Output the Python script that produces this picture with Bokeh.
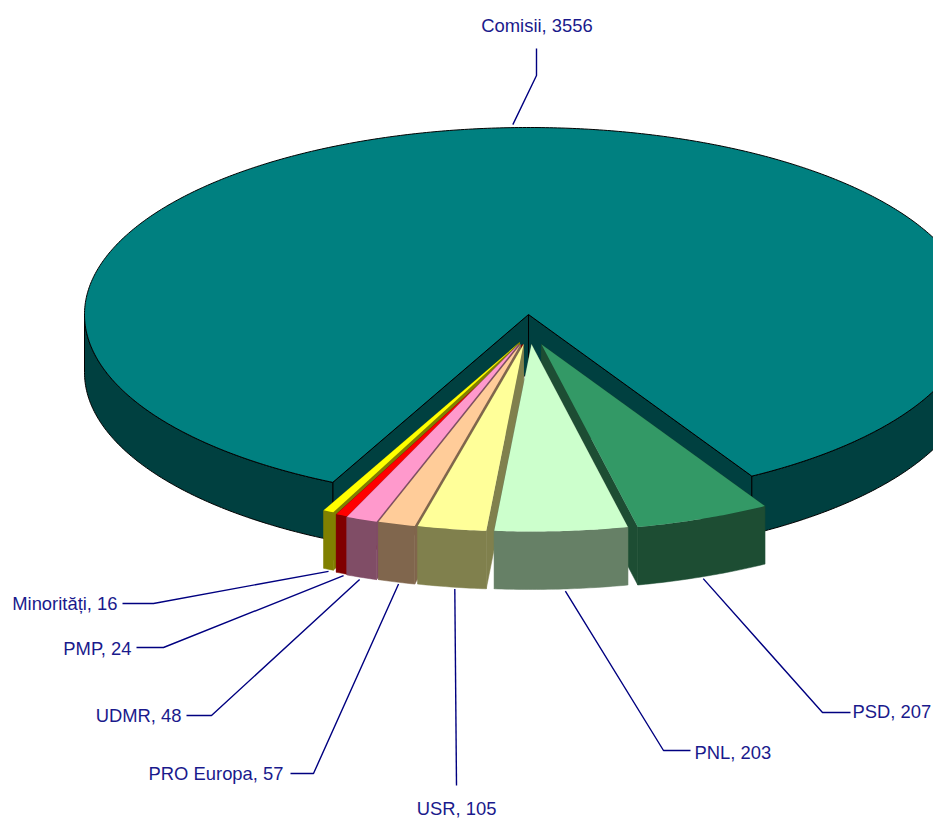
import numpy as np
from bokeh.embed import file_html
from bokeh.models import ColumnDataSource
from bokeh.plotting import figure
from bokeh.resources import INLINE
from bokeh.core.properties import value

categories = ["Comisii", "PSD", "PNL", "USR", "PRO Europa", "UDMR", "PMP", "Minorități"]
values = [3556, 207, 203, 105, 57, 48, 24, 16]
top_colors = ["#008080", "#339966", "#CCFFCC", "#FFFF99", "#FFCC99", "#FF99CC", "#FF0000", "#FFFF00"]
side_colors = ["#004040", "#1D4D33", "#668066", "#80804D", "#80664D", "#804D66", "#800000", "#808000"]

# pie geometry (screen units, y downwards)
CX, CY, A, B, DEPTH = 528, 314, 444, 187, 58
START = 30.2
slice_dx = [0, 13, 3, -5, -8, -10, -6, -9]
slice_dy = [0, 30, 30, 30, 30, 30, 30, 28]
# painting order of the exploded slices
paint_order = [7, 6, 5, 4, 3, 1, 2]

# label layout: elbow and label end points, per category
anchor_dx = [0, 0, 4, 3, 2, -2, 0, 0]
elbows = [(536, 75), (822, 712), (663, 750), (456, 785), (313, 773), (211, 715), (163, 647), (153, 603)]
ends = [(536, 48), (850, 712), (690, 750), (456, 785), (290, 773), (186, 715), (136, 647), (122, 603)]
label_pos = [(536.5, 25), (852, 711), (694, 752), (456, 808), (283, 773), (181, 715), (131, 648), (117, 603)]
label_align = ["center", "left", "left", "center", "right", "right", "right", "right"]

deg = 360.0 / sum(values)
spans = []
cur = START
spans.append((START, START + values[0] * deg))
for v in values[1:]:
    spans.append((cur, cur - v * deg))
    cur -= v * deg

p = figure(width=933, height=820, x_range=(0, 933), y_range=(820, 0),
           output_backend="svg", toolbar_location=None, min_border=0,
           x_axis_type="linear", y_axis_type="linear")
p.axis.visible = False
p.grid.visible = False
p.outline_line_color = None
p.styles = {"position": "absolute", "left": "0px", "top": "0px"}


def rim(cx, cy, t1, t2, n=None):
    n = n or max(2, int(abs(t2 - t1)) * 2 + 2)
    th = np.radians(np.linspace(t1, t2, n))
    return cx + A * np.sin(th), cy + B * np.cos(th)


def wall(cx, cy, t):
    x, y = rim(cx, cy, t, t, 2)
    return [cx, x[0], x[0], cx], [cy, y[0], y[0] + DEPTH, cy + DEPTH]


def front(cx, cy, t1, t2):
    """Outer face for the part of the rim that faces the viewer."""
    lo, hi = max(min(t1, t2), -90), min(max(t1, t2), 90)
    x, y = rim(cx, cy, lo, hi)
    return np.r_[x, x[::-1]], np.r_[y, y[::-1] + DEPTH]


# Comisii: walls and outer side, then the top
t1, t2 = spans[0]
side = side_colors[0]
for t in (t1, t2):
    wx, wy = wall(CX, CY, t)
    p.patch(wx, wy, fill_color=side, line_color="black", line_width=1)
for lo, hi in ((t1, 90), (270, t2)):
    x, y = rim(CX, CY, lo, hi)
    p.patch(np.r_[x, x[::-1]], np.r_[y, y[::-1] + DEPTH], fill_color=side, line_color="black", line_width=1)
x, y = rim(CX, CY, t1, t2)
p.patch(np.r_[CX, x], np.r_[CY, y], fill_color=top_colors[0], line_color="black", line_width=1)

# exploded slices
for i in paint_order:
    cx, cy = CX + slice_dx[i], CY + slice_dy[i]
    t1, t2 = spans[i]
    for t in (t1, t2):
        wx, wy = wall(cx, cy, t)
        p.patch(wx, wy, fill_color=side_colors[i], line_color=side_colors[i], line_width=0.5)
    fx, fy = front(cx, cy, t1, t2)
    p.patch(fx, fy, fill_color=side_colors[i], line_color=side_colors[i], line_width=0.5)
    x, y = rim(cx, cy, t1, t2)
    p.patch(np.r_[cx, x], np.r_[cy, y], fill_color=top_colors[i], line_color=None)

# leader lines
for i, name in enumerate(categories):
    cx, cy = CX + slice_dx[i], CY + slice_dy[i]
    mid = np.radians(sum(spans[i]) / 2)
    ax = cx + A * np.sin(mid) + anchor_dx[i]
    ay = cy + B * np.cos(mid) + (DEPTH + 2 if i else -3)
    p.line([ax, elbows[i][0], ends[i][0]], [ay, elbows[i][1], ends[i][1]],
           line_color="#000080", line_width=1.4)

labels = ColumnDataSource(dict(
    x=[q[0] for q in label_pos], y=[q[1] for q in label_pos],
    text=[f"{c}, {v}" for c, v in zip(categories, values)], align=label_align))
p.text("x", "y", text="text", source=labels, text_align="align", text_baseline="middle",
       text_font=value("Liberation Sans"), text_font_size="18.4px", text_color="#1A1A8C")

open("out.html", "w").write(file_html(p, INLINE))
